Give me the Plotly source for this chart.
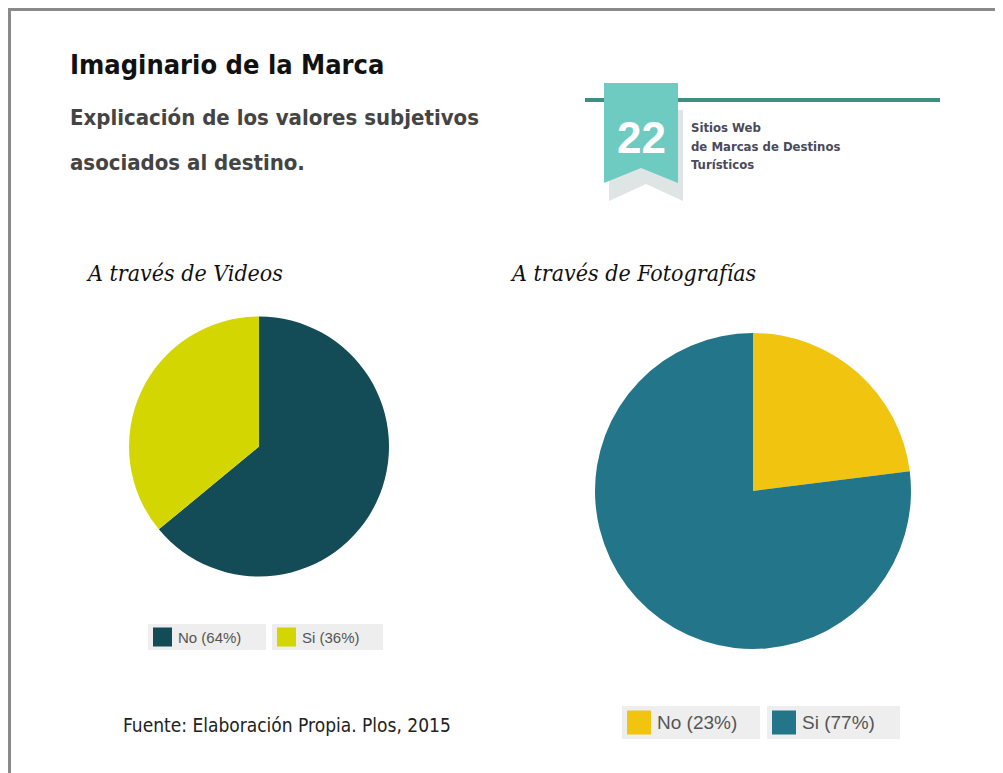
import plotly.graph_objects as go

W, H = 995, 765          # figure size (page adds an 8px body margin)
OFF = 8                  # page offset in screenshot pixels

# ---- data ----
labels = ["No", "Si"]
videos_values = [64, 36]
fotos_values = [23, 77]
videos_colors = ["#134b57", "#d3d600"]
fotos_colors = ["#f1c40f", "#237589"]

title = "Imaginario de la Marca"
subtitle_lines = ["Explicación de los valores subjetivos", "asociados al destino."]
pie_titles = ["A través de Videos", "A través de Fotografías"]
badge_number = "22"
badge_lines = ["Sitios Web", "de Marcas de Destinos", "Turísticos"]
source = "Fuente: Elaboración Propia. Plos, 2015"

COND = "DejaVu Sans Condensed, Liberation Sans Narrow, Roboto Condensed, sans-serif"


def px(x):
    return (x - OFF) / W


def py(y):
    return 1 - (y - OFF) / H


fig = go.Figure()

# pies
fig.add_trace(go.Pie(
    labels=labels, values=videos_values, sort=False, direction="clockwise", rotation=0,
    marker=dict(colors=videos_colors, line=dict(width=0)), textinfo="none",
    domain=dict(x=[px(129), px(389)], y=[py(577), py(316)]), showlegend=False,
    hoverinfo="label+percent",
))
fig.add_trace(go.Pie(
    labels=labels, values=fotos_values, sort=False, direction="clockwise", rotation=0,
    marker=dict(colors=fotos_colors, line=dict(width=0)), textinfo="none",
    domain=dict(x=[px(595), px(911)], y=[py(649), py(333)]), showlegend=False,
    hoverinfo="label+percent",
))

shapes = []
annotations = []

# frame (top and left border)
shapes.append(dict(type="line", xref="paper", yref="paper", x0=px(8), x1=px(1003), y0=py(9.5), y1=py(9.5),
                   line=dict(color="#8a8a8a", width=3)))
shapes.append(dict(type="line", xref="paper", yref="paper", x0=px(9.5), x1=px(9.5), y0=py(8), y1=py(773),
                   line=dict(color="#8a8a8a", width=3)))


def path(points):
    return "M " + " L ".join(f"{px(x)},{py(y)}" for x, y in points) + " Z"


# badge: line, shadow, ribbon
shapes.append(dict(type="line", xref="paper", yref="paper", x0=px(585), x1=px(940), y0=py(100), y1=py(100),
                   line=dict(color="#3f8f80", width=4)))
shapes.append(dict(type="path", xref="paper", yref="paper",
                   path=path([(609, 110), (683, 110), (683, 201), (646, 184), (609, 201)]),
                   fillcolor="#dfe4e4", line=dict(width=0)))
shapes.append(dict(type="path", xref="paper", yref="paper",
                   path=path([(604, 83), (678, 83), (678, 183), (641, 168), (604, 183)]),
                   fillcolor="#6dcbc1", line=dict(width=0)))

annotations.append(dict(text=f"<b>{badge_number}</b>", x=px(641), y=py(137), xref="paper", yref="paper",
                        showarrow=False, xanchor="center", yanchor="middle",
                        font=dict(family="Liberation Sans", size=44, color="white")))
for i, line in enumerate(badge_lines):
    annotations.append(dict(text=f"<b>{line}</b>", x=px(689), y=py(127 + 19 * i), xref="paper", yref="paper",
                            showarrow=False, xanchor="left", yanchor="middle",
                            font=dict(family=COND, size=13, color="#4a4a5a")))

# titles
annotations.append(dict(text=f"<b>{title}</b>", x=px(68), y=py(65), xref="paper", yref="paper",
                        showarrow=False, xanchor="left", yanchor="middle",
                        font=dict(family=COND, size=27, color="#111111")))
for i, line in enumerate(subtitle_lines):
    annotations.append(dict(text=f"<b>{line}</b>", x=px(68), y=py(118 + 45 * i), xref="paper", yref="paper",
                            showarrow=False, xanchor="left", yanchor="middle",
                            font=dict(family=COND, size=22, color="#444444")))

# pie titles
annotations.append(dict(text=f"<i>{pie_titles[0]}</i>", x=px(84), y=py(273), xref="paper", yref="paper",
                        showarrow=False, xanchor="left", yanchor="middle",
                        font=dict(family="DejaVu Serif Condensed, DejaVu Serif", size=23, color="#111111")))
annotations.append(dict(text=f"<i>{pie_titles[1]}</i>", x=px(508), y=py(273), xref="paper", yref="paper",
                        showarrow=False, xanchor="left", yanchor="middle",
                        font=dict(family="DejaVu Serif Condensed, DejaVu Serif", size=23, color="#111111")))

# source
annotations.append(dict(text=source, x=px(121), y=py(725), xref="paper", yref="paper",
                        showarrow=False, xanchor="left", yanchor="middle",
                        font=dict(family=COND, size=19, color="#222222")))


# legends (custom boxes)
def legend(items_boxes, colors, values, font_size, sw):
    for (x0, x1, y0, y1), c, lab, v in zip(items_boxes, colors, labels, values):
        shapes.append(dict(type="rect", xref="paper", yref="paper", x0=px(x0), x1=px(x1), y0=py(y1), y1=py(y0),
                           fillcolor="#eeeeee", line=dict(width=0)))
        cy = (y0 + y1) / 2
        shapes.append(dict(type="rect", xref="paper", yref="paper", x0=px(x0 + 5), x1=px(x0 + 5 + sw),
                           y0=py(cy + sw / 2), y1=py(cy - sw / 2), fillcolor=c, line=dict(width=0)))
        annotations.append(dict(text=f"{lab} ({v}%)", x=px(x0 + 9 + sw), y=py(cy), xref="paper", yref="paper",
                                showarrow=False, xanchor="left", yanchor="middle",
                                font=dict(family="Liberation Sans", size=font_size, color="#555555")))


legend([(148, 266, 624, 650), (272, 383, 624, 650)], videos_colors, videos_values, 15, 19)
legend([(622, 760, 706, 739), (767, 900, 706, 739)], fotos_colors, fotos_values, 19, 24)

fig.update_layout(
    width=W, height=H, margin=dict(l=0, r=0, t=0, b=0),
    paper_bgcolor="white", plot_bgcolor="white",
    shapes=shapes, annotations=annotations, showlegend=False,
)

fig.write_html("out.html")
